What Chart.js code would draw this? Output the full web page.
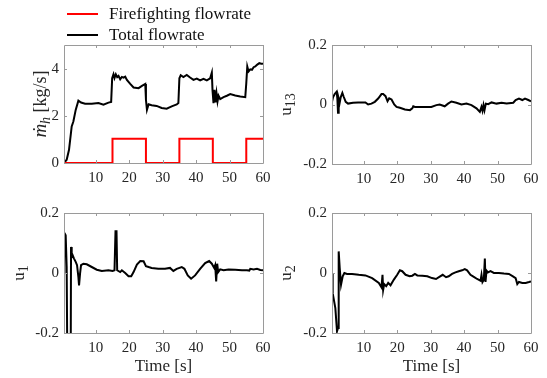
<!DOCTYPE html>
<html>
<head>
<meta charset="utf-8">
<script src="https://cdn.jsdelivr.net/npm/chart.js@4.4.1/dist/chart.umd.min.js"></script>
<style>
  body { margin: 0; background: #fff; }
  #wrap { position: relative; width: 547px; height: 378px; }
  canvas { position: absolute; }
</style>
</head>
<body>
<div id="wrap">
  <canvas id="cFlow" width="270" height="190" style="left:0;top:0"></canvas>
  <canvas id="cU13" width="277" height="190" style="left:270px;top:0"></canvas>
  <canvas id="cU1" width="270" height="188" style="left:0;top:190px"></canvas>
  <canvas id="cU2" width="277" height="188" style="left:270px;top:190px"></canvas>
</div>
<script>
// ---- data ----
const xTicks = [10, 20, 30, 40, 50, 60];
const flowTicks = [0, 2, 4];
const flowTickLabels = ['0', '2', '4'];
const uTicks = [-0.2, 0, 0.2];
const uTickLabels = ['-0.2', '0', '0.2'];

// firefighting flowrate (step signal)
const fireT = [0.5, 15, 25, 35, 45, 55, 60];
const fireFlow = [0, 1.03, 0, 1.03, 0, 1.03, 1.03];

// total flowrate
const totalT = [0.5, 1.3, 2.0, 2.8, 3.3, 4.0, 4.8, 5.6, 6.8, 8.8,
  10.8, 12.3, 13.8, 14.6, 14.9, 15.3, 15.6, 16.0, 16.4, 16.8,
  17.3, 17.8, 18.3, 18.8, 19.3, 20.3, 21.3, 22.8, 23.8, 24.8,
  25.0, 25.3, 25.8, 26.7, 28.2, 29.7, 31.2, 32.7, 34.2, 34.7,
  35.0, 35.4, 36.2, 37.2, 38.2, 39.2, 40.2, 41.2, 42.2, 43.2,
  44.2, 44.7, 44.9, 45.2, 45.5, 45.8, 46.1, 46.4, 46.7, 47.2,
  48.2, 49.2, 50.2, 51.7, 53.2, 54.7, 55.0, 55.3, 55.7, 56.2,
  56.7, 57.2, 57.7, 58.2, 58.9, 59.5, 60.0];
const totalFlow = [0, 0.14, 0.56, 1.55, 1.76, 2.25, 2.64, 2.56, 2.51, 2.51,
  2.54, 2.47, 2.56, 2.59, 3.59, 3.76, 3.6, 3.76, 3.64, 3.69,
  3.55, 3.65, 3.62, 3.66, 3.52, 3.35, 3.2, 3.17, 3.27, 3.35,
  2.68, 2.25, 2.49, 2.45, 2.42, 2.33, 2.30, 2.40, 2.48, 2.54,
  3.59, 3.72, 3.64, 3.73, 3.62, 3.52, 3.58, 3.50, 3.57, 3.50,
  3.59, 3.83, 3.10, 2.54, 3.10, 2.57, 2.96, 2.61, 2.85, 2.71,
  2.79, 2.85, 2.92, 2.86, 2.82, 2.79, 3.38, 4.09, 3.88, 3.97,
  3.95, 4.06, 4.09, 4.16, 4.23, 4.21, 4.20];

// u13
const u13T = [0.5, 0.8, 1.3, 1.9, 2.1, 2.3, 2.5, 2.8, 3.1, 3.6,
  4.0, 4.6, 5.3, 6.8, 8.3, 10.5, 11.3, 12.3, 13.3, 14.3,
  15.3, 15.8, 16.5, 17.1, 17.6, 18.3, 19.1, 19.8, 20.8, 22.3,
  23.8, 24.5, 24.8, 25.3, 26.8, 28.2, 30.2, 31.7, 32.7, 34.2,
  35.2, 36.2, 37.7, 39.2, 40.7, 42.2, 43.7, 44.7, 45.2, 45.5,
  45.8, 46.1, 46.5, 47.2, 48.2, 49.7, 51.2, 52.7, 54.7, 55.4,
  56.4, 57.4, 58.2, 59.2, 60];
const u13 = [0.009, 0.024, 0.035, 0.043, 0.02, -0.028, 0.02, 0.006, 0.024, 0.039,
  0.026, 0.009, 0.003, 0.006, 0.007, 0.007, 0, 0.003, 0.009, 0.02,
  0.035, 0.035, 0.028, 0.011, 0.021, 0.017, 0, -0.008, -0.011, -0.017,
  -0.019, -0.013, -0.006, -0.008, -0.008, -0.008, -0.008, -0.002, 0, -0.006,
  0.003, 0.01, 0.006, 0, 0.003, -0.002, -0.013, -0.025, -0.008, -0.021,
  -0.002, -0.019, 0.003, 0.001, 0.007, 0.003, 0.006, 0.003, 0.006, 0.015,
  0.02, 0.015, 0.02, 0.015, 0.011];

// u1 (dips below -0.2 are cut off by the axis)
const u1T = [0.5, 0.6, 1.0, 1.3, 1.5, 2.5, 2.6, 2.8, 3.1, 3.5,
  4.0, 4.4, 4.8, 5.0, 5.3, 5.6, 6.3, 7.3, 8.8, 10.3,
  11.8, 13.8, 15.0, 15.6, 15.9, 16.2, 16.4, 17.3, 17.8, 18.8,
  19.8, 20.6, 21.3, 22.3, 23.3, 24.3, 25.0, 25.8, 26.7, 28.7,
  30.7, 32.2, 33.2, 34.2, 35.7, 36.5, 37.5, 38.5, 39.7, 41.2,
  42.7, 43.9, 44.7, 45.4, 45.7, 46.0, 46.3, 46.6, 47.2, 48.2,
  49.7, 51.7, 53.7, 55.2, 55.9, 56.2, 57.2, 58.2, 59.2, 60];
const u1 = [0.003, 0.134, 0.126, 0.02, -0.3, -0.3, 0.087, 0.053, 0.059, 0.048,
  0.037, 0.026, -0.013, -0.041, -0.002, 0.026, 0.031, 0.029, 0.02, 0.011,
  0.007, 0.009, 0.007, 0.009, 0.139, 0.139, 0.009, 0.003, 0.009, 0,
  -0.011, -0.011, 0.003, 0.028, 0.04, 0.039, 0.023, 0.02, 0.017, 0.014,
  0.014, 0.017, 0.007, 0.014, 0.02, 0.014, -0.008, -0.019, -0.008, 0.014,
  0.033, 0.04, 0.031, 0.017, 0.026, -0.028, 0.031, 0.003, 0.012, 0.009,
  0.012, 0.011, 0.009, 0.009, 0.008, 0.014, 0.012, 0.014, 0.01, 0.009];

// u2
const u2T = [0.5, 0.7, 1.5, 2.0, 2.3, 2.5, 2.8, 3.2, 3.7, 4.2,
  5.0, 6.5, 8.5, 10.5, 12.5, 14.5, 15.3, 15.6, 15.8, 16.1,
  16.7, 17.3, 18.0, 19.0, 20.0, 20.8, 21.5, 22.5, 23.7, 24.5,
  25.3, 26.0, 27.5, 29.0, 30.4, 31.6, 32.6, 33.6, 34.6, 35.4,
  36.4, 37.4, 38.4, 39.4, 40.2, 40.9, 41.9, 42.9, 43.9, 44.9,
  45.2, 45.5, 45.9, 46.2, 46.4, 46.7, 47.1, 47.9, 48.9, 50.4,
  51.9, 53.4, 54.6, 55.4, 55.9, 56.4, 57.4, 58.4, 59.4, 60];
const u2 = [0, -0.067, -0.117, -0.194, -0.183, 0.072, 0.017, -0.039, -0.011, 0,
  -0.003, -0.003, -0.006, -0.008, -0.017, -0.033, -0.048, -0.006, -0.056, -0.037,
  -0.044, -0.033, -0.041, -0.022, -0.006, 0.009, 0.006, -0.006, -0.011, -0.009,
  -0.003, -0.008, -0.009, -0.011, -0.017, -0.02, -0.013, -0.006, -0.014, -0.011,
  -0.003, 0.002, 0.006, 0.009, 0.013, 0.009, -0.006, -0.013, -0.02, -0.026,
  -0.006, -0.03, -0.022, 0.048, -0.03, 0.008, 0.002, 0.006, 0, 0,
  -0.002, -0.003, -0.011, -0.017, -0.037, -0.03, -0.033, -0.033, -0.03, -0.028];

// ---- helpers ----
const SERIF = '"Liberation Serif", "Times New Roman", serif';
const TEXT = '#262626';
const FRAME = '#9a9a9a';

function pts(xs, ys) {
  return xs.map((x, i) => ({ x: x, y: ys[i] }));
}

// MATLAB-like box with inward ticks, rotated y label with subscripts, optional legend
const framePlugin = {
  id: 'frame',
  afterDatasetsDraw(chart, args, opts) {
    const ctx = chart.ctx;
    const a = chart.chartArea;
    const xs = chart.scales.x, ys = chart.scales.y;
    ctx.save();
    ctx.strokeStyle = FRAME;
    ctx.lineWidth = 1;
    ctx.beginPath();
    ctx.rect(Math.round(a.left) + 0.5, Math.round(a.top) + 0.5,
      Math.round(a.right - a.left), Math.round(a.bottom - a.top));
    xs.ticks.forEach(t => {
      const px = Math.round(xs.getPixelForValue(t.value)) + 0.5;
      ctx.moveTo(px, a.bottom); ctx.lineTo(px, a.bottom - 3);
      ctx.moveTo(px, a.top); ctx.lineTo(px, a.top + 3);
    });
    ys.ticks.forEach(t => {
      const py = Math.round(ys.getPixelForValue(t.value)) + 0.5;
      ctx.moveTo(a.left, py); ctx.lineTo(a.left + 3, py);
      ctx.moveTo(a.right, py); ctx.lineTo(a.right - 3, py);
    });
    ctx.stroke();

    // y axis label
    if (opts.ylabel) {
      ctx.translate(opts.ylabelX, (a.top + a.bottom) / 2);
      ctx.rotate(-Math.PI / 2);
      ctx.fillStyle = TEXT;
      ctx.textBaseline = 'alphabetic';
      ctx.textAlign = 'left';
      let total = 0;
      opts.ylabel.forEach(s => {
        ctx.font = (s.italic ? 'italic ' : '') + s.size + 'px ' + SERIF;
        s.w = ctx.measureText(s.t).width;
        total += s.w;
      });
      let x = -total / 2;
      opts.ylabel.forEach(s => {
        ctx.font = (s.italic ? 'italic ' : '') + s.size + 'px ' + SERIF;
        ctx.fillText(s.t, x, 6 + (s.dy || 0));
        x += s.w;
      });
      ctx.setTransform(1, 0, 0, 1, 0, 0);
    }

    // legend
    if (opts.legend) {
      ctx.font = '17px ' + SERIF;
      ctx.textBaseline = 'middle';
      ctx.textAlign = 'left';
      chart.data.datasets.forEach((ds, i) => {
        const y = opts.legend.y + i * opts.legend.gap;
        ctx.strokeStyle = ds.borderColor;
        ctx.lineWidth = 2;
        ctx.beginPath();
        ctx.moveTo(opts.legend.x, y);
        ctx.lineTo(opts.legend.x + 31, y);
        ctx.stroke();
        ctx.fillStyle = '#111';
        ctx.fillText(ds.label, opts.legend.x + 42, y + 1);
      });
    }
    ctx.restore();
  }
};

function makePanel(id, w, h, box, datasets, yRange, yTickVals, yTickLabels, frameOpts, xTitle) {
  return new Chart(document.getElementById(id), {
    type: 'line',
    data: { datasets: datasets },
    plugins: [framePlugin],
    options: {
      responsive: false,
      animation: false,
      layout: { autoPadding: false, padding: { top: box.top, right: w - box.right, left: 0, bottom: 0 } },
      elements: { point: { radius: 0 }, line: { borderWidth: 2, tension: 0 } },
      plugins: { legend: { display: false }, tooltip: { enabled: false }, frame: frameOpts },
      scales: {
        x: {
          type: 'linear', min: 0.5, max: 60,
          grid: { display: false, drawTicks: false },
          border: { display: false },
          afterBuildTicks: s => { s.ticks = xTicks.map(v => ({ value: v })); },
          afterFit: s => { s.height = h - box.bottom; s.paddingLeft = 0; s.paddingRight = 0; },
          ticks: { font: { family: SERIF, size: 15 }, color: TEXT, padding: 6, maxRotation: 0, autoSkip: false },
          title: xTitle
            ? { display: true, text: xTitle, font: { family: SERIF, size: 17 }, color: TEXT, padding: { top: 0, bottom: 1 } }
            : { display: false }
        },
        y: {
          type: 'linear', min: yRange[0], max: yRange[1],
          grid: { display: false, drawTicks: false },
          border: { display: false },
          afterBuildTicks: s => { s.ticks = yTickVals.map(v => ({ value: v })); },
          afterFit: s => { s.width = box.left; s.paddingTop = 0; s.paddingBottom = 0; },
          ticks: {
            font: { family: SERIF, size: 15 }, color: TEXT, padding: 5,
            callback: (v, i) => yTickLabels[i]
          }
        }
      }
    }
  });
}

const black = { borderColor: '#000', backgroundColor: '#000', borderWidth: 2 };

makePanel('cFlow', 270, 190, { left: 64, top: 45, right: 263, bottom: 163 }, [
  { label: 'Firefighting flowrate', data: pts(fireT, fireFlow), borderColor: '#ff0000', backgroundColor: '#ff0000', borderWidth: 2, stepped: true },
  Object.assign({ label: 'Total flowrate', data: pts(totalT, totalFlow) }, black)
], [0, 5], flowTicks, flowTickLabels, {
  ylabelX: 40,
  ylabel: [{ t: 'ṁ', italic: true, size: 19 }, { t: 'h', italic: true, size: 14, dy: 4 }, { t: ' [kg/s]', size: 18 }],
  legend: { x: 67, y: 14, gap: 21 }
});

makePanel('cU13', 277, 190, { left: 62, top: 45, right: 261, bottom: 164 }, [
  Object.assign({ label: 'u13', data: pts(u13T, u13) }, black)
], [-0.2, 0.2], uTicks, uTickLabels, {
  ylabelX: 15,
  ylabel: [{ t: 'u', size: 17 }, { t: '13', size: 14, dy: 4 }]
});

makePanel('cU1', 270, 188, { left: 64, top: 23, right: 263, bottom: 143 }, [
  Object.assign({ label: 'u1', data: pts(u1T, u1) }, black)
], [-0.2, 0.2], uTicks, uTickLabels, {
  ylabelX: 18,
  ylabel: [{ t: 'u', size: 17 }, { t: '1', size: 14, dy: 4 }]
}, 'Time [s]');

makePanel('cU2', 277, 188, { left: 62, top: 23, right: 261, bottom: 143 }, [
  Object.assign({ label: 'u2', data: pts(u2T, u2) }, black)
], [-0.2, 0.2], uTicks, uTickLabels, {
  ylabelX: 15,
  ylabel: [{ t: 'u', size: 17 }, { t: '2', size: 14, dy: 4 }]
}, 'Time [s]');
</script>
</body>
</html>
